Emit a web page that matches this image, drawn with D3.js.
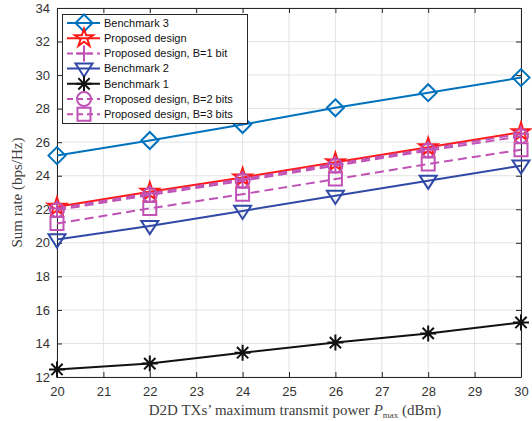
<!DOCTYPE html>
<html>
<head>
<meta charset="utf-8">
<script src="https://cdn.jsdelivr.net/npm/d3@7"></script>
<style>
  html, body { margin: 0; padding: 0; background: #fff; }
  svg { display: block; }
  .tick text { font-family: "Liberation Sans", Arial, sans-serif; font-size: 13px; fill: #333; }
</style>
</head>
<body>
<div id="chart"></div>
<script>
// Transmit power (dBm)
const powers = [20, 22, 24, 26, 28, 30];

// Sum rate (bps/Hz) per scheme
const benchmark3 = [25.2, 26.1, 27.05, 28.05, 28.95, 29.85];
const proposed = [22.15, 23.05, 23.9, 24.8, 25.7, 26.6];
const proposedB1 = [22.05, 22.95, 23.8, 24.7, 25.6, 26.5];
const benchmark2 = [20.2, 21.0, 21.9, 22.8, 23.7, 24.6];
const benchmark1 = [12.45, 12.8, 13.45, 14.05, 14.6, 15.25];
const proposedB2 = [21.95, 22.85, 23.7, 24.6, 25.5, 26.35];
const proposedB3 = [21.15, 22.05, 22.9, 23.8, 24.7, 25.55];

const seriesNames = [
  "Benchmark 3",
  "Proposed design",
  "Proposed design, B=1 bit",
  "Benchmark 2",
  "Benchmark 1",
  "Proposed design, B=2 bits",
  "Proposed design, B=3 bits",
];

const xTicks = [20, 21, 22, 23, 24, 25, 26, 27, 28, 29, 30];
const yTicks = [12, 14, 16, 18, 20, 22, 24, 26, 28, 30, 32, 34];

const MAGENTA = "#c052b6";
const series = [
  { name: seriesNames[0], values: benchmark3, color: "#0072bd", marker: "diamond", dash: null },
  { name: seriesNames[1], values: proposed, color: "#ff1a1a", marker: "star", dash: null },
  { name: seriesNames[2], values: proposedB1, color: MAGENTA, marker: "plus", dash: "9,5" },
  { name: seriesNames[3], values: benchmark2, color: "#3149a6", marker: "triangleDown", dash: null },
  { name: seriesNames[4], values: benchmark1, color: "#111111", marker: "asterisk", dash: null },
  { name: seriesNames[5], values: proposedB2, color: MAGENTA, marker: "circle", dash: "9,5" },
  { name: seriesNames[6], values: proposedB3, color: MAGENTA, marker: "square", dash: "9,5" },
];

const width = 532;
const height = 421;
const margin = { top: 8, right: 11, bottom: 44, left: 57 };
const plotWidth = width - margin.left - margin.right;
const plotHeight = height - margin.top - margin.bottom;

// marker outlines drawn around (0,0)
function markerPath(kind) {
  const p = d3.path();
  if (kind === "diamond") {
    const r = 8.5;
    p.moveTo(0, -r); p.lineTo(r, 0); p.lineTo(0, r); p.lineTo(-r, 0); p.closePath();
  } else if (kind === "triangleDown") {
    const r = 8.5;
    p.moveTo(-r, -r * 0.6); p.lineTo(r, -r * 0.6); p.lineTo(0, r * 0.95); p.closePath();
  } else if (kind === "square") {
    const r = 6.5;
    p.rect(-r, -r, 2 * r, 2 * r);
  } else if (kind === "circle") {
    const r = 7;
    p.moveTo(r, 0); p.arc(0, 0, r, 0, 2 * Math.PI);
  } else if (kind === "plus") {
    const r = 8;
    p.moveTo(-r, 0); p.lineTo(r, 0); p.moveTo(0, -r); p.lineTo(0, r);
  } else if (kind === "asterisk") {
    const r = 8, d = r * Math.SQRT1_2;
    p.moveTo(-r, 0); p.lineTo(r, 0); p.moveTo(0, -r); p.lineTo(0, r);
    p.moveTo(-d, -d); p.lineTo(d, d); p.moveTo(-d, d); p.lineTo(d, -d);
  } else if (kind === "star") {
    const outer = 9.5, inner = outer * 0.38;
    for (let i = 0; i < 10; i++) {
      const r = i % 2 === 0 ? outer : inner;
      const a = -Math.PI / 2 + (i * Math.PI) / 5;
      if (i === 0) p.moveTo(r * Math.cos(a), r * Math.sin(a));
      else p.lineTo(r * Math.cos(a), r * Math.sin(a));
    }
    p.closePath();
  }
  return p.toString();
}

const svgRoot = d3.select("#chart").append("svg").attr("width", width).attr("height", height);
const svg = svgRoot.append("g").attr("transform", "translate(" + margin.left + "," + margin.top + ")");

const x = d3.scaleLinear().domain([20, 30]).range([0, plotWidth]);
const y = d3.scaleLinear().domain([12, 34]).range([plotHeight, 0]);

// grid
svg.append("g")
  .selectAll("line.vgrid")
  .data(xTicks)
  .enter()
  .append("line")
  .attr("x1", (d) => x(d)).attr("x2", (d) => x(d))
  .attr("y1", 0).attr("y2", plotHeight)
  .attr("stroke", "#e3e3e3").attr("stroke-width", 1);
svg.append("g")
  .selectAll("line.hgrid")
  .data(yTicks)
  .enter()
  .append("line")
  .attr("x1", 0).attr("x2", plotWidth)
  .attr("y1", (d) => y(d)).attr("y2", (d) => y(d))
  .attr("stroke", "#e3e3e3").attr("stroke-width", 1);

// axes with inward ticks on all four sides
const axisColor = "#262626";
function styleAxis(g) {
  g.select(".domain").attr("stroke", axisColor).attr("stroke-width", 1);
  g.selectAll(".tick line").attr("stroke", axisColor);
}
svg.append("g")
  .attr("transform", "translate(0," + plotHeight + ")")
  .call(d3.axisBottom(x).tickValues(xTicks).tickSizeInner(-5).tickSizeOuter(0).tickPadding(10))
  .call(styleAxis);
svg.append("g")
  .call(d3.axisLeft(y).tickValues(yTicks).tickSizeInner(-5).tickSizeOuter(0).tickPadding(7))
  .call(styleAxis);
svg.append("g")
  .call(d3.axisTop(x).tickValues(xTicks).tickSizeInner(-5).tickSizeOuter(0).tickFormat(""))
  .call(styleAxis);
svg.append("g")
  .attr("transform", "translate(" + plotWidth + ",0)")
  .call(d3.axisRight(y).tickValues(yTicks).tickSizeInner(-5).tickSizeOuter(0).tickFormat(""))
  .call(styleAxis);

// lines and markers
const line = d3.line()
  .x((d, i) => x(powers[i]))
  .y((d) => y(d));

series.forEach(function (s) {
  svg.append("path")
    .datum(s.values)
    .attr("d", line)
    .attr("fill", "none")
    .attr("stroke", s.color)
    .attr("stroke-width", 2)
    .attr("stroke-dasharray", s.dash);
  svg.append("g")
    .selectAll("path")
    .data(s.values)
    .enter()
    .append("path")
    .attr("d", markerPath(s.marker))
    .attr("transform", (d, i) => "translate(" + x(powers[i]) + "," + y(d) + ")")
    .attr("fill", "none")
    .attr("stroke", s.color)
    .attr("stroke-width", 2);
});

// legend
const legend = svgRoot.append("g").attr("transform", "translate(62,14)");
legend.append("rect")
  .attr("x", 0.5).attr("y", 0.5)
  .attr("width", 185).attr("height", 109)
  .attr("fill", "#fff")
  .attr("stroke", axisColor)
  .attr("stroke-width", 1);
const rows = legend.selectAll("g.row")
  .data(series)
  .enter()
  .append("g")
  .attr("transform", (d, i) => "translate(0," + (9 + i * 15.2) + ")");
rows.append("line")
  .attr("x1", 5).attr("x2", 38)
  .attr("y1", 0).attr("y2", 0)
  .attr("stroke", (d) => d.color)
  .attr("stroke-width", 2)
  .attr("stroke-dasharray", (d) => (d.dash ? "6,4" : null));
rows.append("path")
  .attr("d", (d) => markerPath(d.marker))
  .attr("transform", "translate(22,0)")
  .attr("fill", "none")
  .attr("stroke", (d) => d.color)
  .attr("stroke-width", 2);
rows.append("text")
  .attr("x", 42)
  .attr("dy", "0.35em")
  .style("font-family", "Liberation Sans, Arial, sans-serif")
  .style("font-size", "11px")
  .style("fill", "#111")
  .text((d) => d.name);

// axis titles
svgRoot.append("text")
  .attr("transform", "translate(22," + (margin.top + plotHeight / 2) + ") rotate(-90)")
  .attr("text-anchor", "middle")
  .style("font-family", "Liberation Serif, Times New Roman, serif")
  .style("font-size", "15px")
  .style("fill", "#404040")
  .text("Sum rate (bps/Hz)");

const xTitle = svgRoot.append("text")
  .attr("x", margin.left + plotWidth / 2 + 6)
  .attr("y", 415)
  .attr("text-anchor", "middle")
  .style("font-family", "Liberation Serif, Times New Roman, serif")
  .style("font-size", "15px")
  .style("fill", "#404040");
xTitle.append("tspan").text("D2D TXs\u2019 maximum transmit power ");
xTitle.append("tspan").style("font-style", "italic").text("P");
xTitle.append("tspan").attr("dy", 3).style("font-size", "9px").text("max");
xTitle.append("tspan").attr("dy", -3).text(" (dBm)");
</script>
</body>
</html>
